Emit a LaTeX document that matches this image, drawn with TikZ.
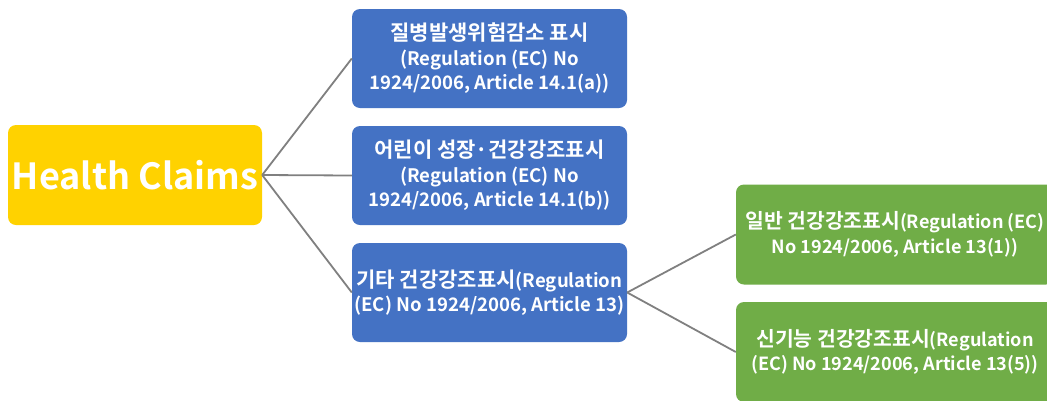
\documentclass[tikz,border=0pt]{standalone}
\usepackage{fontspec}
\setmainfont{Noto Sans CJK KR}[BoldFont={Noto Sans CJK KR Bold}]
\definecolor{hcyellow}{HTML}{FFD200}
\definecolor{hcblue}{HTML}{4472C4}
\definecolor{hcgreen}{HTML}{70AD47}
\definecolor{hcline}{HTML}{808080}
\newcommand{\hk}[1]{{\fontsize{21}{25}\selectfont #1}}
\newcommand{\hks}[1]{{\fontsize{20.4}{25}\selectfont #1}}
\begin{document}
\begin{tikzpicture}[x=1pt,y=-1pt,
  card/.style={rounded corners=8pt, text=white, align=center, inner sep=0pt,
    font=\bfseries\fontsize{18.6}{24.5}\selectfont},
  rootbox/.style={card, fill=hcyellow, minimum width=254pt, minimum height=100pt,
    font=\bfseries\fontsize{36}{42}\selectfont},
  regbox/.style={card, fill=hcblue, minimum width=275pt, minimum height=99pt},
  subbox/.style={card, fill=hcgreen, minimum width=318pt, minimum height=100pt,
    font=\bfseries\fontsize{18.1}{24.5}\selectfont},
  link/.style={draw=hcline, line width=1.8pt}]
\useasboundingbox (0,0) rectangle (1047,400);
\fill[white] (0,0) rectangle (1047,400);

\node[rootbox] (root) at (135,175) {Health Claims};

\node[regbox] (r1) at (489.5,58.5) {\hk{질병발생위험감소 표시}\\(Regulation (EC) No\\1924/2006, Article 14.1(a))};
\node[regbox] (r2) at (489.5,175.5) {\hk{어린이 성장·건강강조표시}\\(Regulation (EC) No\\1924/2006, Article 14.1(b))};
\node[regbox] (r3) at (489.5,292.5) {\hk{기타 건강강조표시}(Regulation\\(EC) No 1924/2006, Article 13)};

\node[subbox] (g1) at (895,234.5) {\hks{일반 건강강조표시}(Regulation (EC)\\No 1924/2006, Article 13(1))};
\node[subbox] (g2) at (895,352) {\hks{신기능 건강강조표시}(Regulation\\(EC) No 1924/2006, Article 13(5))};

\draw[link] (root.east) -- (r1.west);
\draw[link] (root.east) -- (r2.west);
\draw[link] (root.east) -- (r3.west);
\draw[link] (r3.east) -- (g1.west);
\draw[link] (r3.east) -- (g2.west);
\end{tikzpicture}
\end{document}
